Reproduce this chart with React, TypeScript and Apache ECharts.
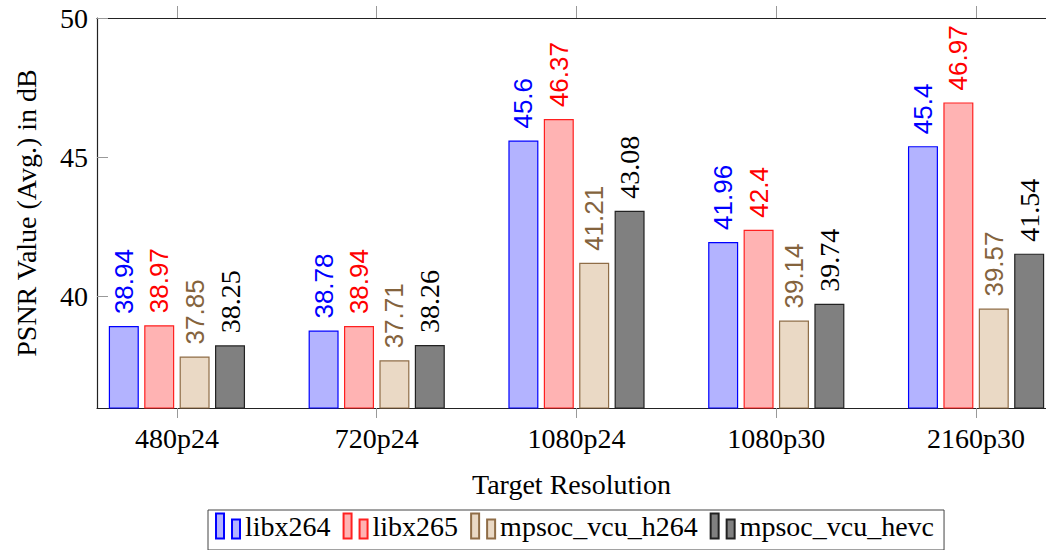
import React, { useEffect, useRef } from "react";
import * as echarts from "echarts";

// Target resolutions on the horizontal axis
const categories = ["480p24", "720p24", "1080p24", "1080p30", "2160p30"];

// Average PSNR (dB) per encoder
const libx264 = [38.94, 38.78, 45.6, 41.96, 45.4];
const libx265 = [38.97, 38.94, 46.37, 42.4, 46.97];
const mpsocVcuH264 = [37.85, 37.71, 41.21, 39.14, 39.57];
const mpsocVcuHevc = [38.25, 38.26, 43.08, 39.74, 41.54];

const yTicks = [40, 45, 50];

const serif = "Liberation Serif";
const sans = "Liberation Sans";

type SeriesDef = {
  name: string;
  values: number[];
  fill: string;
  stroke: string;
  labelColor: string;
  labelFont: string;
  labelSize: number;
};

const seriesDefs: SeriesDef[] = [
  { name: "libx264", values: libx264, fill: "#b3b3ff", stroke: "#0000ff", labelColor: "#0000ff", labelFont: sans, labelSize: 26 },
  { name: "libx265", values: libx265, fill: "#ffb3b3", stroke: "#ff2020", labelColor: "#ff0000", labelFont: sans, labelSize: 26 },
  { name: "mpsoc_vcu_h264", values: mpsocVcuH264, fill: "#ead9c5", stroke: "#8f6d47", labelColor: "#84633d", labelFont: sans, labelSize: 26 },
  { name: "mpsoc_vcu_hevc", values: mpsocVcuHevc, fill: "#808080", stroke: "#222222", labelColor: "#000000", labelFont: serif, labelSize: 28 },
];

const categoryIdx = categories.map((_, i) => i);

export default function App() {
  const ref = useRef<HTMLDivElement>(null);

  useEffect(() => {
    if (!ref.current) return;
    const chart = echarts.init(ref.current, undefined, { renderer: "svg" });

    const axisLine = { show: true, onZero: false, lineStyle: { color: "#222", width: 1.2 } };
    const tickStyle = { color: "#999", width: 1 };

    const option: any = {
      animation: false,
      textStyle: { fontFamily: serif },
      grid: {
        left: 97,
        right: 0,
        top: 18,
        bottom: 142,
        containLabel: false,
        outerBoundsMode: "none",
      },
      legend: {
        left: 208,
        top: 510,
        orient: "horizontal",
        padding: [2, 10, 10, 7],
        itemGap: 12,
        itemWidth: 24,
        itemHeight: 25,
        borderColor: "#444",
        borderWidth: 1,
        borderRadius: 0,
        icon: "path://M0,0h8v25h-8zM16,6h8v19h-8z",
        textStyle: { fontFamily: serif, fontSize: 28, color: "#000" },
        data: seriesDefs.map((s) => s.name),
      },
      xAxis: [
        {
          type: "value",
          position: "bottom",
          min: -0.4,
          max: 4.35,
          name: "Target Resolution",
          nameLocation: "middle",
          nameGap: 62,
          nameTextStyle: { fontFamily: serif, fontSize: 28, color: "#000" },
          axisLine,
          axisTick: {
            show: true,
            inside: false,
            length: 10,
            lineStyle: tickStyle,
            customValues: categoryIdx,
          },
          axisLabel: {
            show: true,
            margin: 16,
            fontFamily: serif,
            fontSize: 28,
            color: "#000",
            customValues: categoryIdx,
            formatter: (v: number) => categories[Math.round(v)] ?? "",
          },
          splitLine: { show: false },
        },
        {
          type: "value",
          position: "top",
          min: -0.4,
          max: 4.35,
          axisLine,
          axisTick: {
            show: true,
            inside: false,
            length: 12,
            lineStyle: tickStyle,
            customValues: categoryIdx,
          },
          axisLabel: { show: false },
          splitLine: { show: false },
        },
      ],
      yAxis: {
        type: "value",
        min: 36,
        max: 50,
        name: "PSNR Value (Avg.) in dB",
        nameLocation: "middle",
        nameGap: 57,
        nameRotate: 90,
        nameTextStyle: { fontFamily: serif, fontSize: 28, color: "#000" },
        axisLine,
        axisTick: {
          show: true,
          inside: true,
          length: 11,
          lineStyle: tickStyle,
          customValues: yTicks,
        },
        axisLabel: {
          margin: 9,
          fontFamily: serif,
          fontSize: 28,
          color: "#000",
          customValues: yTicks,
        },
        splitLine: { show: false },
      },
      series: seriesDefs.map((s) => ({
        name: s.name,
        type: "bar",
        xAxisIndex: 0,
        barWidth: 30,
        barGap: "18%",
        data: s.values.map((v, i) => [i, v]),
        itemStyle: { color: s.fill, borderColor: s.stroke, borderWidth: 1.2 },
        emphasis: { disabled: true },
        label: {
          show: true,
          position: "top",
          rotate: 90,
          align: "left",
          verticalAlign: "middle",
          distance: 12,
          fontFamily: s.labelFont,
          fontSize: s.labelSize,
          color: s.labelColor,
          formatter: (p: any) => String(p.value[1]),
        },
      })),
    };

    chart.setOption(option);
    return () => chart.dispose();
  }, []);

  return (
    <div
      ref={ref}
      style={{ position: "absolute", left: 0, top: 0, width: 1046, height: 550, background: "#fff" }}
    />
  );
}
